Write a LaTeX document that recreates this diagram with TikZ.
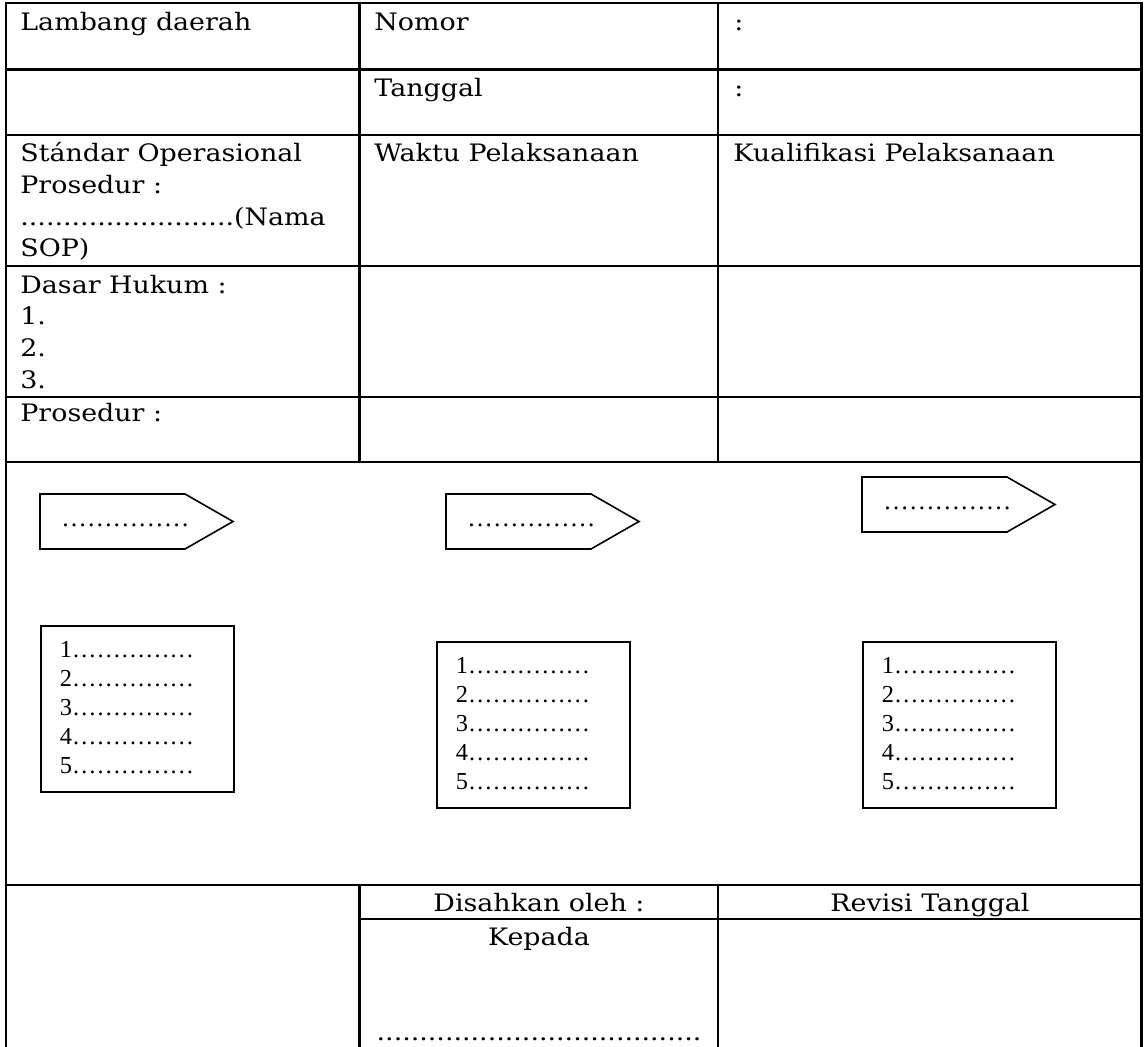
\documentclass[tikz,border=0pt]{standalone}
\usepackage{fontspec}
\setmainfont[FakeStretch=1.12]{DejaVu Serif}
\newfontfamily\timesfont{Liberation Serif}
\usetikzlibrary{positioning, calc}

\begin{document}
\begin{tikzpicture}[
  x=0.5pt, y=-0.5pt,
  cell/.style={anchor=base west, inner sep=0pt, align=left, font=\fontsize{12}{15.85}\selectfont},
  mid/.style={anchor=base, inner sep=0pt, font=\fontsize{12}{15.85}\selectfont},
  grid/.style={line width=1.1pt},
  tag/.style={draw, line width=0.8pt},
  tagtxt/.style={anchor=base west, inner sep=0pt, font=\timesfont\fontsize{12.8}{14.5}\selectfont},
  listbox/.style={draw, line width=0.9pt, anchor=north west, inner sep=0pt, minimum width=96.5pt, minimum height=83pt},
  listtxt/.style={anchor=base west, inner sep=0pt, align=left, font=\timesfont\fontsize{12.2}{14.5}\selectfont},
]
\useasboundingbox (0,0) rectangle (1144,1047);
% Table frame and rules
\draw[grid] (6,1047) -- (6,3) -- (1141.5,3) -- (1141.5,1047);
\foreach \ry in {69.5, 135, 266, 397, 462, 885}
  \draw[grid] (6,\ry) -- (1141.5,\ry);
\foreach \cx in {359.5, 718} {
  \draw[grid] (\cx,3) -- (\cx,462);
  \draw[grid] (\cx,885) -- (\cx,1047);
}
\draw[grid] (359.5,919) -- (1141.5,919);

% Header cells (multi-line cells sit on their last baseline)
\node[cell] (lambang) at (20,30.7) {Lambang daerah};
\node[cell] (nomor) at (374,30.7) {Nomor};
\node[cell] (nomorval) at (734,30.7) {:};
\node[cell] (tanggal) at (374,96.7) {Tanggal};
\node[cell] (tanggalval) at (734,96.7) {:};
\node[cell] (sop) at (20,256.8) {Stándar Operasional\\Prosedur :\\.........................(Nama\\SOP)};
\node[cell] (waktu) at (374,161.7) {Waktu Pelaksanaan};
\node[cell] (kualifikasi) at (733,161.7) {Kualifikasi Pelaksanaan};
\node[cell] (dasar) at (20,388.4) {Dasar Hukum :\\1.\\2.\\3.};
\node[cell] (prosedur) at (20,421.7) {Prosedur :};

% Procedure steps
\foreach \tx/\ty [count=\i] in {40/494, 446/494, 862/477} {
  \draw[tag] (\tx,\ty) -- ++(145,0) -- ++(48,27.5) -- ++(-48,27.5) -- ++(-145,0) -- cycle;
  \node[tagtxt] (tag\i) at (\tx+21,\ty+32) {……………};
}
\foreach \lx/\ly [count=\i] in {40/625, 436/641, 862/641} {
  \node[listbox] (list\i) at (\lx,\ly) {};
  \node[listtxt] (items\i) at ($(list\i.north west)+(19.5,148)$) {1……………\\2……………\\3……………\\4……………\\5……………};
}

% Approval footer
\node[mid] (disahkan) at (539,911.7) {Disahkan oleh :};
\node[mid] (revisi) at (930,911.7) {Revisi Tanggal};
\node[mid] (kepada) at (539,945) {Kepada};
\node[mid] (nama) at (539,1040) {......................................};
\end{tikzpicture}
\end{document}
